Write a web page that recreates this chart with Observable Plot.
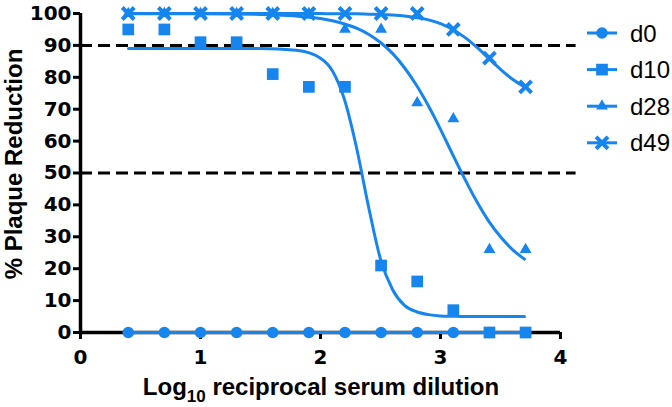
<!DOCTYPE html>
<html><head><meta charset="utf-8">
<script src="https://cdn.jsdelivr.net/npm/d3@7"></script>
<script src="https://cdn.jsdelivr.net/npm/@observablehq/plot@0.6"></script>
<style>
body{margin:0;background:#fff;}
#wrap{width:672px;height:407px;}
</style></head><body><div id="wrap"></div>
<script>
// ---- data ----
const seriesNames = ["d0", "d10", "d28", "d49"];
const dilution = [0.398, 0.699, 1.0, 1.301, 1.602, 1.903, 2.204, 2.505, 2.806, 3.107, 3.408, 3.709];
const d0  = [0, 0, 0, 0, 0, 0, 0, 0, 0, 0, 0, 0];
const d10 = [95, 95, 91, 91, 81, 77, 77, 21, 16, 7, 0, 0];
const d28 = [100, 100, 100, 100, 100, 100, 95, 95, 72, 67, 26, 26];
const d49 = [100, 100, 100, 100, 100, 100, 100, 100, 100, 95, 86, 77];

// fitted curves
const curveX = [0.4, 1.0, 1.5, 1.8, 2.0, 2.1, 2.2, 2.3, 2.4, 2.5, 2.6, 2.7, 2.8, 2.9, 3.0, 3.1, 3.2, 3.3, 3.4, 3.5, 3.6, 3.7];
const fitD0  = [0, 0, 0, 0, 0, 0, 0, 0, 0, 0, 0, 0, 0, 0, 0, 0, 0, 0, 0, 0, 0, 0];
const fitD10 = [89, 89, 89, 88.5, 86, 82, 73, 58, 39.5, 23, 13.5, 8.5, 6.5, 5.6, 5.2, 5.1, 5, 5, 5, 5, 5, 5];
const fitD28 = [99.9, 99.9, 99.7, 99.2, 98.4, 97.7, 96.7, 95.4, 93.5, 90.9, 87.5, 83, 77.5, 71, 63.7, 55.9, 48.3, 41.2, 35, 30, 26, 23];
const fitD49 = [100, 100, 100, 100, 100, 99.9, 99.9, 99.9, 99.8, 99.7, 99.5, 99.2, 98.7, 98.0, 96.8, 95.0, 92.6, 89.5, 86, 82.5, 79.4, 77];

const refLines = [50, 90];
const xTicks = [0, 1, 2, 3, 4];
const yTicks = [0, 10, 20, 30, 40, 50, 60, 70, 80, 90, 100];

// ---- styling ----
const BLUE = "#1785ee";
const TICKFONT = 20;
const symbols = {d0: "circle", d10: "square", d28: "triangle", d49: "times"};
const radii = {d0: 5.8, d10: 6.6, d28: 4.4, d49: 5.5};

const pointSeries = {d0, d10, d28, d49};
const fitSeries = {d0: fitD0, d10: fitD10, d28: fitD28, d49: fitD49};

const points = seriesNames.map(s => dilution.map((x, i) => ({x, y: pointSeries[s][i], s})));
const fits = seriesNames.map(s => curveX.map((x, i) => ({x, y: fitSeries[s][i], s})));

const dotMark = (s, data) => symbols[s] === "times"
  ? Plot.dot(data, {x: "x", y: "y", symbol: "times", r: radii[s], stroke: BLUE, strokeWidth: 4})
  : Plot.dot(data, {x: "x", y: "y", symbol: symbols[s], r: radii[s], fill: BLUE, stroke: "none"});

const chart = Plot.plot({
  width: 672, height: 407,
  marginLeft: 80, marginRight: 112, marginTop: 13, marginBottom: 75,
  x: {domain: [0, 4], axis: null},
  y: {domain: [0, 100], axis: null},
  style: {background: "white", overflow: "visible", color: "black"},
  marks: [
    Plot.ruleY(refLines, {x1: 0, x2: 4.13, stroke: "black", strokeWidth: 3, strokeDasharray: "12,6"}),
    Plot.axisY({ticks: yTicks, anchor: "left", tickSize: 7, strokeWidth: 3, tickPadding: 2,
      fontSize: TICKFONT, fontWeight: "bold", fontFamily: "DejaVu Sans", label: null, tickFormat: d => d}),
    Plot.axisX({ticks: xTicks, anchor: "bottom", tickSize: 7, strokeWidth: 3, tickPadding: 10,
      fontSize: TICKFONT, fontWeight: "bold", fontFamily: "DejaVu Sans", label: null, tickFormat: d => d}),
    Plot.ruleX([0], {y1: 0, y2: 100, stroke: "black", strokeWidth: 3.5}),
    Plot.ruleY([0], {x1: 0, x2: 4, stroke: "black", strokeWidth: 3.5}),
    ...fits.map(f => Plot.line(f, {x: "x", y: "y", stroke: BLUE, strokeWidth: 3, curve: "monotone-x"})),
    ...seriesNames.map((s, k) => dotMark(s, points[k]))
  ]
});
document.getElementById("wrap").appendChild(chart);

const svg = d3.select(chart);
// tick labels: make sure font settings apply
svg.selectAll("g[aria-label$='tick label']")
  .attr("font-size", TICKFONT).attr("font-weight", "bold").attr("font-family", "DejaVu Sans");
svg.selectAll("text")
  .style("font-size", TICKFONT + "px").style("font-weight", "bold")
  .style("font-family", "'DejaVu Sans', sans-serif").attr("fill", "black");

// ---- titles ----
const FONT = "'Liberation Sans', Arial, sans-serif";
const xt = svg.append("text")
  .attr("x", 321).attr("y", 395)
  .attr("text-anchor", "middle")
  .style("font-family", FONT)
  .style("font-size", "24px").style("font-weight", "bold").attr("fill", "black");
xt.append("tspan").text("Log");
xt.append("tspan").attr("dy", 7).style("font-size", "17px").text("10");
xt.append("tspan").attr("dy", -7).text(" reciprocal serum dilution");

svg.append("text")
  .attr("transform", "translate(22,164) rotate(-90)")
  .attr("text-anchor", "middle")
  .style("font-family", FONT)
  .style("font-size", "24px").style("font-weight", "bold").attr("fill", "black")
  .text("% Plaque Reduction");

// ---- legend ----
const lg = svg.append("g");
seriesNames.forEach((s, i) => {
  const cy = 33 + i * 36.6;
  const g = lg.append("g").attr("transform", `translate(0,${cy})`);
  g.append("line").attr("x1", 587).attr("x2", 617).attr("y1", 0).attr("y2", 0)
    .attr("stroke", BLUE).attr("stroke-width", 3);
  const symType = {circle: d3.symbolCircle, square: d3.symbolSquare, triangle: d3.symbolTriangle, times: d3.symbolTimes}[symbols[s]];
  const p = g.append("path").attr("transform", "translate(602,0)")
    .attr("d", d3.symbol(symType, radii[s] * radii[s] * Math.PI)());
  if (symbols[s] === "times") p.attr("fill", "none").attr("stroke", BLUE).attr("stroke-width", 4);
  else p.attr("fill", BLUE);
  g.append("text").attr("x", 630).attr("y", 0).attr("dy", "0.36em")
    .attr("text-anchor", "start")
    .style("font-family", FONT)
    .style("font-size", "24px").attr("fill", "black").text(s);
});
</script>
</body></html>
